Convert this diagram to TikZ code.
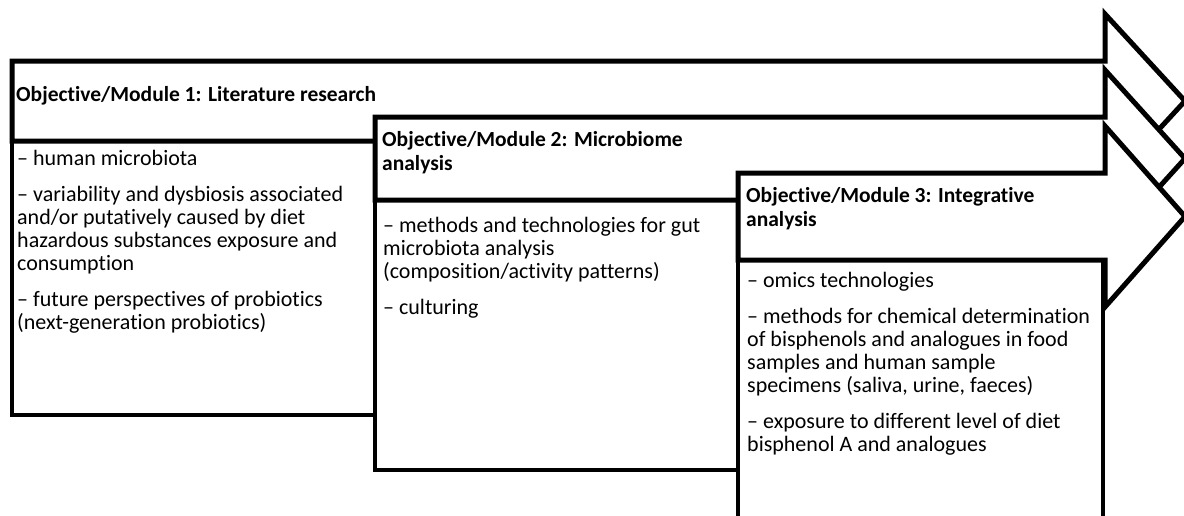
\documentclass[tikz,border=0pt]{standalone}
\usepackage{fontspec}
\setmainfont{Carlito}[Ligatures=NoCommon]
\begin{document}
\begin{tikzpicture}[x=1pt,y=-1pt,
  arrowshape/.style={draw=black, fill=white, line width=5pt},
  panel/.style={draw=black, fill=white, line width=4pt},
  headtxt/.style={anchor=base west, inner sep=0pt, font=\fontsize{21.5}{24}\selectfont\bfseries},
  bodytxt/.style={anchor=base west, inner sep=0pt, font=\fontsize{22}{24}\selectfont}]
\useasboundingbox (0,0) rectangle (1184,515);
\clip (0,0) rectangle (1184,515);

% Module 1: content panel and block arrow
\draw[panel] (12,141) rectangle (375,415);
\draw[arrowshape] (12,61) -- (1105,61) -- (1105,14) -- (1185,101) -- (1105,188)
  -- (1105,141) -- (12,141) -- cycle;

% Module 2
\draw[panel] (375,200) rectangle (738,470);
\draw[arrowshape] (375,117) -- (1105,117) -- (1105,70) -- (1185,158.5) -- (1105,247)
  -- (1105,200) -- (375,200) -- cycle;

% Module 3
\draw[panel] (738,260) rectangle (1103,540);
\draw[arrowshape] (738,173) -- (1105,173) -- (1105,126) -- (1185,216.5) -- (1105,307)
  -- (1105,260) -- (738,260) -- cycle;

% Headings
\node[headtxt] (h1) at (16,101) {Objective/Module 1: Literature research};
\node[headtxt] (h2a) at (382,146) {Objective/Module 2: Microbiome};
\node[headtxt] (h2b) at (382,170) {analysis};
\node[headtxt] (h3a) at (746,202) {Objective/Module 3: Integrative};
\node[headtxt] (h3b) at (746,226) {analysis};

% Module 1 items
\node[bodytxt] (a1) at (17,165) {– human microbiota};
\node[bodytxt] (a2) at (17,201) {– variability and dysbiosis associated};
\node[bodytxt] (a3) at (17,224) {and/or putatively caused by diet};
\node[bodytxt] (a4) at (17,247) {hazardous substances exposure and};
\node[bodytxt] (a5) at (17,270) {consumption};
\node[bodytxt] (a6) at (17,306) {– future perspectives of probiotics};
\node[bodytxt] (a7) at (17,329) {(next-generation probiotics)};

% Module 2 items
\node[bodytxt] (b1) at (383,232) {– methods and technologies for gut};
\node[bodytxt] (b2) at (383,255) {microbiota analysis};
\node[bodytxt] (b3) at (383,278) {(composition/activity patterns)};
\node[bodytxt] (b4) at (383,314) {– culturing};

% Module 3 items
\node[bodytxt] (c1) at (747,287) {– omics technologies};
\node[bodytxt] (c2) at (747,323) {– methods for chemical determination};
\node[bodytxt] (c3) at (747,346) {of bisphenols and analogues in food};
\node[bodytxt] (c4) at (747,369) {samples and human sample};
\node[bodytxt] (c5) at (747,392) {specimens (saliva, urine, faeces)};
\node[bodytxt] (c6) at (747,428) {– exposure to different level of diet};
\node[bodytxt] (c7) at (747,451) {bisphenol A and analogues};
\end{tikzpicture}
\end{document}
